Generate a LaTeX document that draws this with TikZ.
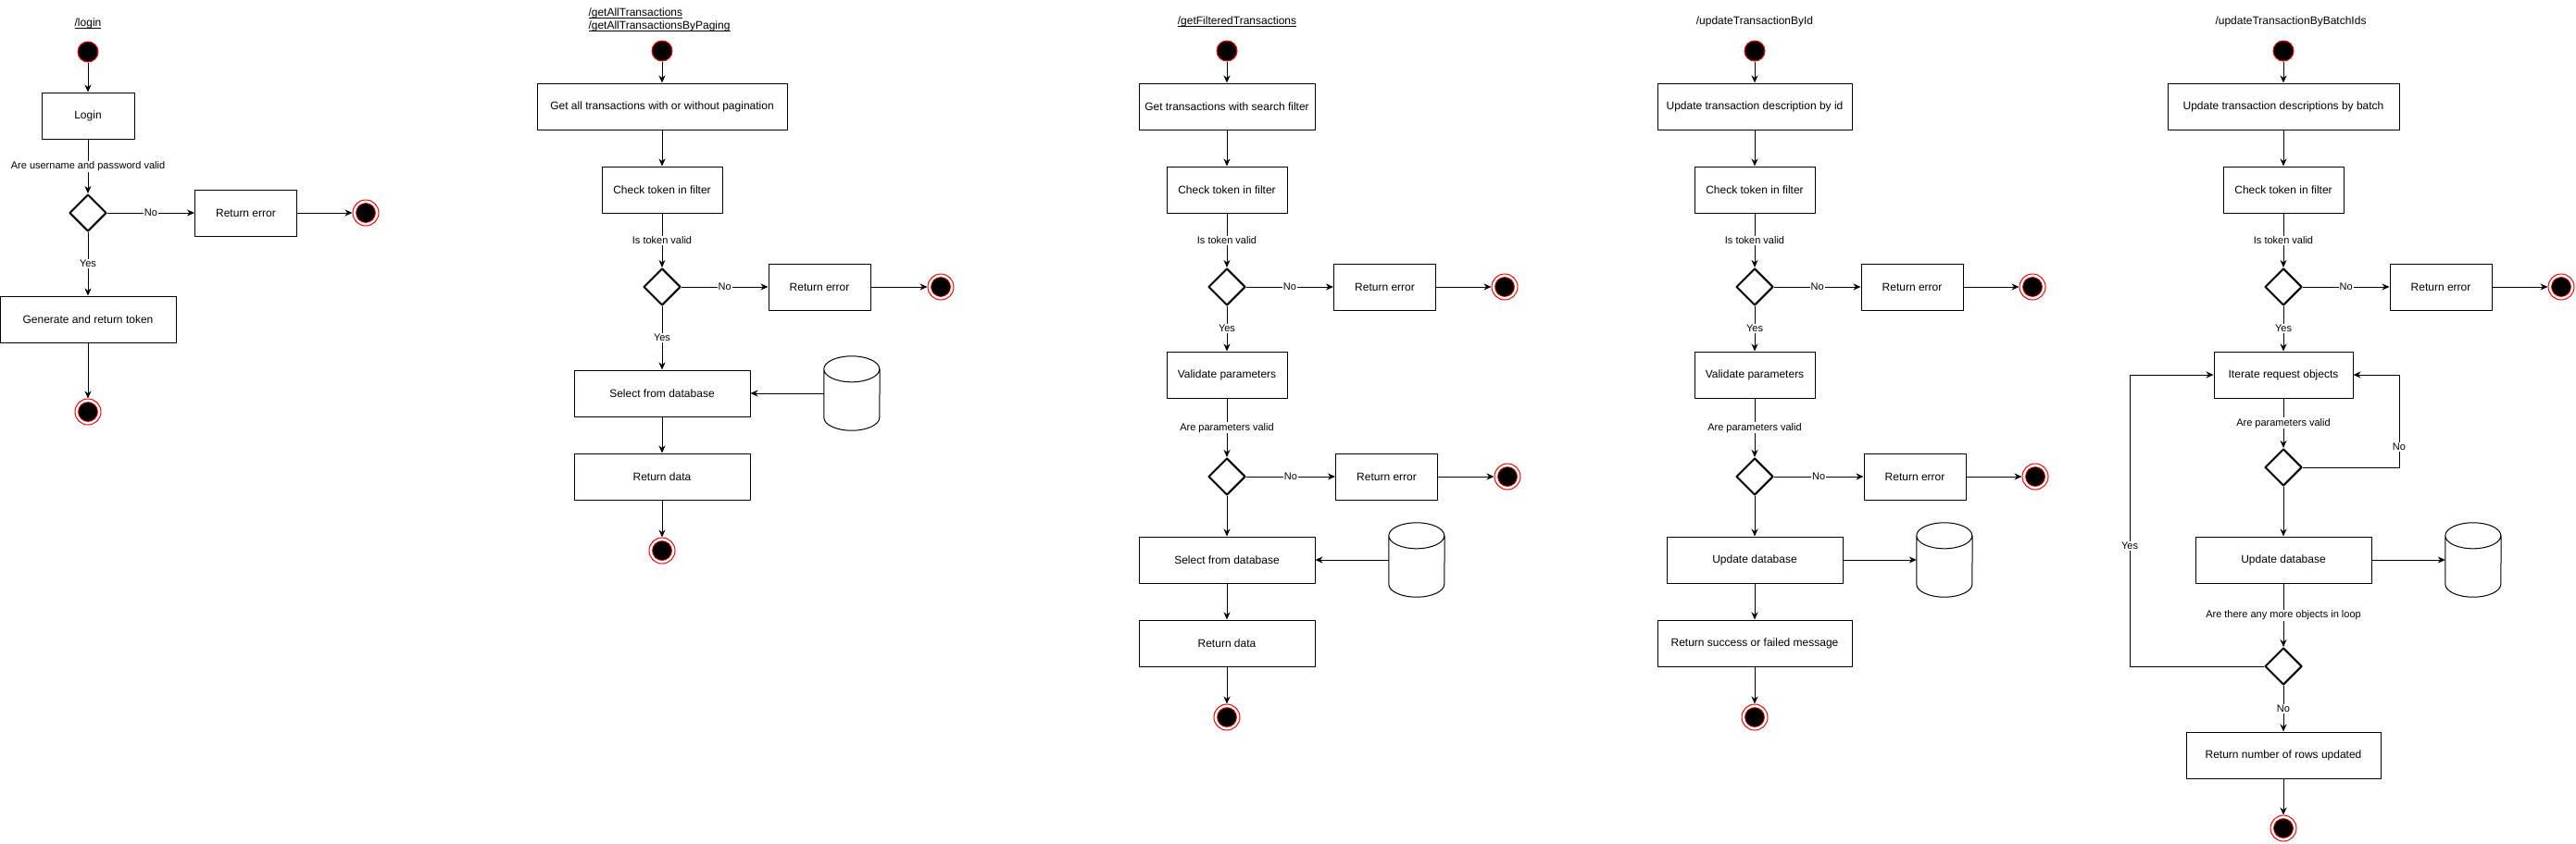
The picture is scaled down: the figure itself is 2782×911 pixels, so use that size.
\documentclass[tikz,border=0pt]{standalone}
\usepackage{fontspec}
\setmainfont{Liberation Sans}
\usetikzlibrary{shapes.geometric, arrows.meta}
\tikzset{
  box/.style={draw, line width=1pt, minimum width=#1, minimum height=50pt, inner sep=0pt, font=\fontsize{12}{14}\selectfont},
  decision/.style={diamond, draw, line width=2pt, minimum width=40pt, minimum height=40pt, inner sep=0pt},
  start/.style={circle, draw=red, fill=black, line width=1pt, minimum size=22pt, inner sep=0pt},
  stop/.style={circle, draw=red, fill=white, line width=1pt, minimum size=28pt, inner sep=0pt,
    path picture={\filldraw[fill=black, draw=red, line width=0.7pt] (path picture bounding box.center) circle (10.5pt);}},
  dbbox/.style={minimum width=60pt, minimum height=80pt, inner sep=0pt},
  flow/.style={line width=1pt, -{Stealth[length=8pt, width=7pt, inset=2.5pt]}},
  lbl/.style={fill=white, inner sep=1pt, font=\fontsize{11}{13}\selectfont},
  title/.style={font=\fontsize{12}{14}\selectfont},
}
% underline close to the baseline
\newcommand{\ulink}[1]{\underline{\raisebox{0pt}[\height][0pt]{#1}}}
% database drawn round a named node
\newcommand{\dbcyl}[1]{%
  \draw[line width=1pt] ([yshift=-14pt]#1.north west)
    arc[start angle=180, end angle=360, x radius=30pt, y radius=14pt]
    arc[start angle=0, end angle=180, x radius=30pt, y radius=14pt]
    -- ([yshift=14pt]#1.south west)
    arc[start angle=180, end angle=360, x radius=30pt, y radius=14pt]
    -- ([yshift=-14pt]#1.north east);}
\begin{document}
\begin{tikzpicture}[x=1pt, y=-1pt, line join=round]
	\useasboundingbox (0,0) rectangle (2782,911);
	% /login
	\node[title] at (95,25) {\ulink{/login}};
	\node[start] (s1) at (95,56) {};
	\node[box=100pt] (login) at (95,125) {Login};
	\node[decision] (d1) at (95,230) {};
	\node[box=110pt] (err1) at (265.5,230) {Return error};
	\node[stop] (e1) at (395,230) {};
	\node[box=190pt] (gen1) at (95,345) {Generate and return token};
	\node[stop] (e1b) at (95,445) {};
	\draw[flow] (s1) -- (login);
	\draw[flow] (login) -- node[lbl]{Are username and password valid} (d1);
	\draw[flow] (d1) -- node[lbl]{No} (err1);
	\draw[flow] (err1) -- (e1);
	\draw[flow] (d1) -- node[lbl]{Yes} (gen1);
	\draw[flow] (gen1) -- (e1b);
	% /getAllTransactions
	\node[title, anchor=west, align=left] at (632,21) {\ulink{/getAllTransactions}\\\ulink{/getAllTransactionsByPaging}};
	\node[start] (s2) at (715,55) {};
	\node[box=270pt] (get2) at (715,115) {Get all transactions with or without pagination};
	\node[box=130pt] (chk2) at (715,205) {Check token in filter};
	\node[decision] (d2) at (715,310) {};
	\node[box=110pt] (err2) at (885,310) {Return error};
	\node[stop] (e2) at (1016,310) {};
	\node[box=190pt] (sel2) at (715,425) {Select from database};
	\node[dbbox] (db2) at (920,425) {}; \dbcyl{db2}
	\node[box=190pt] (ret2) at (715,515) {Return data};
	\node[stop] (e2b) at (715,595) {};
	\draw[flow] (s2) -- (get2);
	\draw[flow] (get2) -- (chk2);
	\draw[flow] (chk2) -- node[lbl]{Is token valid} (d2);
	\draw[flow] (d2) -- node[lbl]{No} (err2);
	\draw[flow] (err2) -- (e2);
	\draw[flow] (d2) -- node[lbl]{Yes} (sel2);
	\draw[flow] (db2) -- (sel2);
	\draw[flow] (sel2) -- (ret2);
	\draw[flow] (ret2) -- (e2b);
	% /getFilteredTransactions
	\node[title] at (1336,23) {\ulink{/getFilteredTransactions}};
	\node[start] (s3) at (1325,55) {};
	\node[box=190pt] (get3) at (1325,115) {Get transactions with search filter};
	\node[box=130pt] (chk3) at (1325,205) {Check token in filter};
	\node[decision] (d3) at (1325,310) {};
	\node[box=110pt] (err3) at (1495.5,310) {Return error};
	\node[stop] (e3) at (1625,310) {};
	\node[box=130pt] (val3) at (1325,405) {Validate parameters};
	\node[decision] (d3b) at (1325,515) {};
	\node[box=110pt] (err3b) at (1497.5,515) {Return error};
	\node[stop] (e3b) at (1628,515) {};
	\node[box=190pt] (sel3) at (1325,605) {Select from database};
	\node[dbbox] (db3) at (1530,605) {}; \dbcyl{db3}
	\node[box=190pt] (ret3) at (1325,695) {Return data};
	\node[stop] (e3c) at (1325,775) {};
	\draw[flow] (s3) -- (get3);
	\draw[flow] (get3) -- (chk3);
	\draw[flow] (chk3) -- node[lbl]{Is token valid} (d3);
	\draw[flow] (d3) -- node[lbl]{No} (err3);
	\draw[flow] (err3) -- (e3);
	\draw[flow] (d3) -- node[lbl]{Yes} (val3);
	\draw[flow] (val3) -- node[lbl]{Are parameters valid} (d3b);
	\draw[flow] (d3b) -- node[lbl]{No} (err3b);
	\draw[flow] (err3b) -- (e3b);
	\draw[flow] (d3b) -- (sel3);
	\draw[flow] (db3) -- (sel3);
	\draw[flow] (sel3) -- (ret3);
	\draw[flow] (ret3) -- (e3c);
	% /updateTransactionById
	\node[title] at (1895,23) {/updateTransactionById};
	\node[start] (s4) at (1895,55) {};
	\node[box=210pt] (upd4) at (1895,115) {Update transaction description by id};
	\node[box=130pt] (chk4) at (1895,205) {Check token in filter};
	\node[decision] (d4) at (1895,310) {};
	\node[box=110pt] (err4) at (2065,310) {Return error};
	\node[stop] (e4) at (2195,310) {};
	\node[box=130pt] (val4) at (1895,405) {Validate parameters};
	\node[decision] (d4b) at (1895,515) {};
	\node[box=110pt] (err4b) at (2068,515) {Return error};
	\node[stop] (e4b) at (2198,515) {};
	\node[box=190pt] (udb4) at (1895,605) {Update database};
	\node[dbbox] (db4) at (2100,605) {}; \dbcyl{db4}
	\node[box=210pt] (msg4) at (1895,695) {Return success or failed message};
	\node[stop] (e4c) at (1895,775) {};
	\draw[flow] (s4) -- (upd4);
	\draw[flow] (upd4) -- (chk4);
	\draw[flow] (chk4) -- node[lbl]{Is token valid} (d4);
	\draw[flow] (d4) -- node[lbl]{No} (err4);
	\draw[flow] (err4) -- (e4);
	\draw[flow] (d4) -- node[lbl]{Yes} (val4);
	\draw[flow] (val4) -- node[lbl]{Are parameters valid} (d4b);
	\draw[flow] (d4b) -- node[lbl]{No} (err4b);
	\draw[flow] (err4b) -- (e4b);
	\draw[flow] (d4b) -- (udb4);
	\draw[flow] (udb4) -- (db4);
	\draw[flow] (udb4) -- (msg4);
	\draw[flow] (msg4) -- (e4c);
	% /updateTransactionByBatchIds
	\node[title] at (2474,23) {/updateTransactionByBatchIds};
	\node[start] (s5) at (2466,55) {};
	\node[box=250pt] (upd5) at (2466,115) {Update transaction descriptions by batch};
	\node[box=130pt] (chk5) at (2466,205) {Check token in filter};
	\node[decision] (d5) at (2466,310) {};
	\node[box=110pt] (err5) at (2636,310) {Return error};
	\node[stop] (e5) at (2766,310) {};
	\node[box=150pt] (it5) at (2466,405) {Iterate request objects};
	\node[decision] (d5b) at (2466,505) {};
	\node[box=190pt] (udb5) at (2466,605) {Update database};
	\node[dbbox] (db5) at (2671,605) {}; \dbcyl{db5}
	\node[decision] (d5c) at (2466,720) {};
	\node[box=210pt] (rows5) at (2466,816) {Return number of rows updated};
	\node[stop] (e5b) at (2466,895) {};
	\draw[flow] (s5) -- (upd5);
	\draw[flow] (upd5) -- (chk5);
	\draw[flow] (chk5) -- node[lbl]{Is token valid} (d5);
	\draw[flow] (d5) -- node[lbl]{No} (err5);
	\draw[flow] (err5) -- (e5);
	\draw[flow] (d5) -- node[lbl]{Yes} (it5);
	\draw[flow] (it5) -- node[lbl]{Are parameters valid} (d5b);
	\draw[flow] (d5b.east) -- ++(104,0) |- node[lbl, pos=0.11]{No} (it5.east);
	\draw[flow] (d5b) -- (udb5);
	\draw[flow] (udb5) -- (db5);
	\draw[flow] (udb5) -- node[lbl]{Are there any more objects in loop} (d5c);
	\draw[flow] (d5c.west) -- ++(-145,0) |- node[lbl, pos=0.206]{Yes} (it5.west);
	\draw[flow] (d5c) -- node[lbl]{No} (rows5);
	\draw[flow] (rows5) -- (e5b);
\end{tikzpicture}
\end{document}
